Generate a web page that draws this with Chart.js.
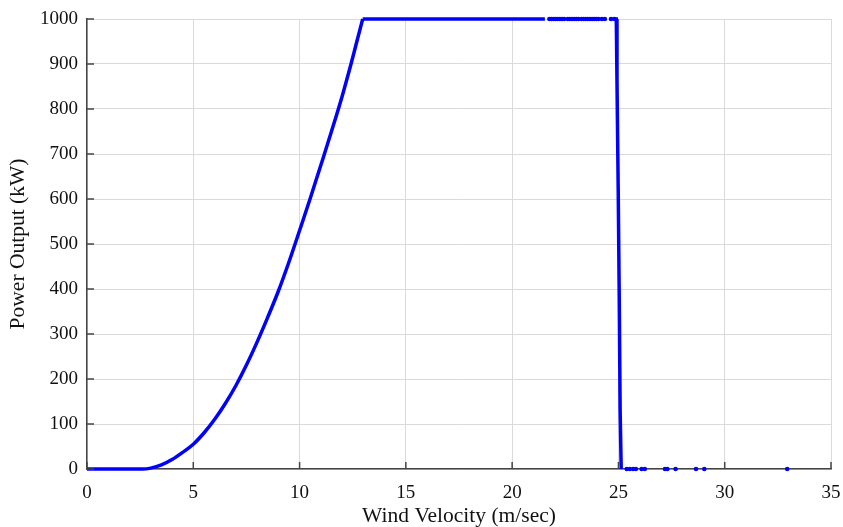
<!DOCTYPE html>
<html>
<head>
<meta charset="utf-8">
<script src="https://cdn.jsdelivr.net/npm/chart.js@4"></script>
<style>
  html, body { margin: 0; padding: 0; background: #fff; }
  #wrap { width: 843px; height: 527px; }
</style>
</head>
<body>
<div id="wrap"><canvas id="powerChart"></canvas></div>
<script>
// power curve (m/sec -> kW)
const curveSpeed = [0, 2.6, 3.0, 3.5, 4.0, 4.5, 5.0, 5.5, 6.0, 6.5, 7.0, 7.5, 8.0, 8.5, 9.0, 9.5, 10.0, 10.5, 11.0, 11.5, 12.0, 12.42, 12.7, 12.97];
const curvePower = [0, 0, 2, 9, 21, 37, 55, 80, 110, 145, 185, 231, 282, 337, 395, 460, 530, 601, 675, 750, 828, 900, 951, 1000];

// flat run at rated power
const ratedSpeed = [12.97, 21.54];
const ratedPower = 1000;

// sparse samples at rated power
const ratedDotSpeed = [21.75, 21.85, 21.95, 22.05, 22.15, 22.25, 22.35, 22.45, 22.62, 22.72, 22.82, 22.92, 23.02, 23.12,
  23.26, 23.36, 23.46, 23.56, 23.66, 23.76, 23.86, 23.96, 24.06, 24.22, 24.36, 24.65, 24.8];

// cut-out drop
const cutoutSpeed = [24.82, 24.9, 24.93, 24.99, 25.04, 25.08, 25.13];
const cutoutPower = [1000, 1000, 870, 620, 370, 130, 0];

// samples above cut-out
const zeroDotSpeed = [25.39, 25.54, 25.69, 25.82, 26.09, 26.24, 27.19, 27.3, 27.69, 28.65, 29.04, 32.94];

const xTicks = [0, 5, 10, 15, 20, 25, 30, 35];

const BLUE = "#0000ff";
const FONT = "'Liberation Serif', 'Times New Roman', serif";

function pts(xs, ys) {
  return xs.map((x, i) => ({ x: x, y: Array.isArray(ys) ? ys[i] : ys }));
}

// small ticks pointing into the plot, like the original
const innerTicks = {
  id: "innerTicks",
  afterDraw(chart) {
    const { ctx, chartArea, scales } = chart;
    ctx.save();
    ctx.strokeStyle = "#444";
    ctx.lineWidth = 1.5;
    scales.y.ticks.forEach(t => {
      const y = scales.y.getPixelForValue(t.value);
      ctx.beginPath();
      ctx.moveTo(chartArea.left, y);
      ctx.lineTo(chartArea.left + 7, y);
      ctx.stroke();
    });
    scales.x.ticks.forEach(t => {
      const x = scales.x.getPixelForValue(t.value);
      ctx.beginPath();
      ctx.moveTo(x, chartArea.bottom);
      ctx.lineTo(x, chartArea.bottom - 7);
      ctx.stroke();
    });
    ctx.restore();
  }
};

const lineStyle = {
  showLine: true,
  borderColor: BLUE,
  borderWidth: 3.5,
  pointRadius: 0,
  clip: false
};

const dotStyle = {
  backgroundColor: BLUE,
  borderWidth: 0,
  pointRadius: 2.3,
  clip: false
};

new Chart(document.getElementById("powerChart"), {
  type: "scatter",
  data: {
    datasets: [
      { ...lineStyle, data: pts(curveSpeed, curvePower), cubicInterpolationMode: "monotone" },
      { ...lineStyle, data: pts(ratedSpeed, ratedPower) },
      { ...dotStyle, data: pts(ratedDotSpeed, ratedPower) },
      { ...lineStyle, data: pts(cutoutSpeed, cutoutPower) },
      { ...dotStyle, data: pts(zeroDotSpeed, 0) }
    ]
  },
  options: {
    responsive: true,
    maintainAspectRatio: false,
    animation: false,
    layout: { autoPadding: false, padding: { top: 19, right: 12, left: 0, bottom: 0 } },
    plugins: {
      legend: { display: false },
      tooltip: { enabled: false }
    },
    scales: {
      x: {
        type: "linear",
        min: 0,
        max: 35,
        afterBuildTicks: s => { s.ticks = xTicks.map(v => ({ value: v })); },
        afterFit: s => {
          s.height = 58;
          s.paddingLeft = 0;
          s.paddingRight = 0;
        },
        grid: { color: "#dadada", lineWidth: 1, drawTicks: false },
        border: { display: true, color: "#444", width: 1.5 },
        ticks: { color: "#111", padding: 13, maxRotation: 0, font: { family: FONT, size: 19 } },
        title: {
          display: true,
          text: "Wind Velocity (m/sec)",
          color: "#111",
          padding: { top: 0, bottom: -2 },
          font: { family: FONT, size: 21.5 }
        }
      },
      y: {
        min: 0,
        max: 1000,
        afterFit: s => {
          s.width = 87;
          s.paddingTop = 0;
          s.paddingBottom = 0;
        },
        grid: { color: "#dadada", lineWidth: 1, drawTicks: false },
        border: { display: true, color: "#444", width: 1.5 },
        ticks: {
          stepSize: 100,
          color: "#111",
          padding: 9,
          font: { family: FONT, size: 19 },
          callback: v => String(v)
        },
        title: {
          display: true,
          text: "Power Output (kW)",
          color: "#111",
          padding: { top: 5, bottom: 0 },
          font: { family: FONT, size: 21.5 }
        }
      }
    }
  },
  plugins: [innerTicks]
});
</script>
</body>
</html>
